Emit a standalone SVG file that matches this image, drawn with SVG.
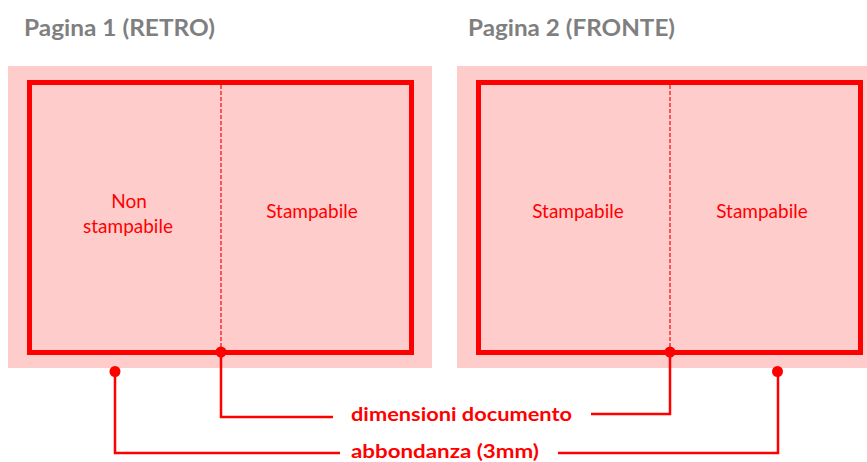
<svg xmlns="http://www.w3.org/2000/svg" width="867" height="462" viewBox="0 0 867 462">
<style>
.bg{fill:#ffcccc}
.frame{fill:none;stroke:#ff0000;stroke-width:5}
.fold{stroke:#ff0000;stroke-width:1.2;stroke-dasharray:4 2;fill:none}
.title{font-family:Lato,"Open Sans","Liberation Sans",sans-serif;font-weight:bold;font-size:23px;fill:#7f7f7f}
.lbl{font-family:Lato,"Open Sans","Liberation Sans",sans-serif;font-size:19px;fill:#ff0000;text-anchor:middle}
.cap{font-family:Lato,"Open Sans","Liberation Sans",sans-serif;font-weight:bold;font-size:19.5px;fill:#ff0000}
.wire{fill:none;stroke:#ff0000;stroke-width:2.5}
.dot{fill:#ff0000}
</style>
<rect width="867" height="462" fill="#ffffff"/>
<g id="page1">
<text class="title" x="24" y="36" textLength="191" lengthAdjust="spacingAndGlyphs">Pagina 1 (RETRO)</text>
<rect class="bg" x="8" y="66" width="424" height="302"/>
<rect class="frame" x="29.5" y="82.5" width="382" height="270"/>
<line class="fold" x1="221" y1="85" x2="221" y2="350"/>
<text class="lbl" x="129" y="208">Non</text>
<text class="lbl" x="128" y="233">stampabile</text>
<text class="lbl" x="312" y="218">Stampabile</text>
</g>
<g id="page2">
<text class="title" x="468" y="36" textLength="207" lengthAdjust="spacingAndGlyphs">Pagina 2 (FRONTE)</text>
<rect class="bg" x="457" y="66" width="410" height="302"/>
<rect class="frame" x="478.5" y="82.5" width="382" height="270"/>
<line class="fold" x1="670" y1="85" x2="670" y2="350"/>
<text class="lbl" x="578" y="218">Stampabile</text>
<text class="lbl" x="762" y="218">Stampabile</text>
</g>
<g id="connectors">
<polyline class="wire" points="221,352 221,417 333,417"/>
<polyline class="wire" points="591,414 670,414 670,352"/>
<polyline class="wire" points="115,372 115,453 340,453"/>
<polyline class="wire" points="558,453 778,453 778,372"/>
<circle class="dot" cx="221" cy="352" r="5.5"/>
<circle class="dot" cx="670" cy="352" r="5.5"/>
<circle class="dot" cx="115" cy="371.5" r="5.5"/>
<circle class="dot" cx="777.5" cy="371.5" r="5.5"/>
</g>
<g id="label-documento">
<text class="cap" x="351" y="421" textLength="221" lengthAdjust="spacingAndGlyphs">dimensioni documento</text>
</g>
<g id="label-abbondanza">
<text class="cap" x="351" y="458" textLength="188" lengthAdjust="spacingAndGlyphs">abbondanza (3mm)</text>
</g>
</svg>
